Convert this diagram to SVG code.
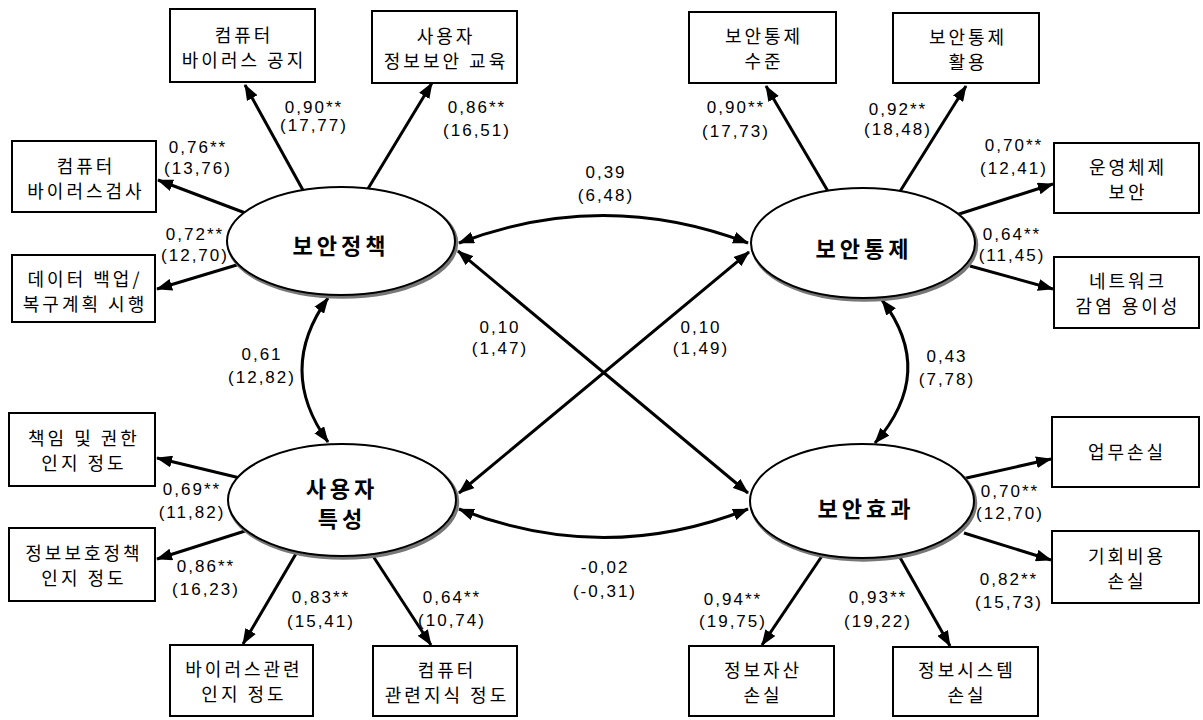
<svg xmlns="http://www.w3.org/2000/svg" width="1203" height="720" viewBox="0 0 1203 720">
<defs>
<style>
.box{fill:#fff;stroke:#000;stroke-width:2}
.ell{fill:#fff;stroke:#000;stroke-width:2}
.sh{fill:none;stroke:#777;stroke-width:3.5}
.bt{font-family:"Noto Sans CJK KR","Noto Sans",sans-serif;font-size:18px;letter-spacing:3px;text-anchor:middle;fill:#000}
.et{font-family:"Noto Sans CJK KR","Noto Sans",sans-serif;font-size:22px;font-weight:bold;letter-spacing:4px;text-anchor:middle;fill:#000}
.nt{font-family:"Liberation Sans",Arial,sans-serif;font-size:17px;letter-spacing:2px;text-anchor:middle;fill:#000}
.ln{fill:none;stroke:#000;stroke-width:3;marker-end:url(#ah)}
.cr{fill:none;stroke:#000;stroke-width:3;marker-start:url(#ah);marker-end:url(#ah)}
</style>
<marker id="ah" viewBox="0 0 16 12" refX="15" refY="6" markerWidth="16" markerHeight="12" markerUnits="userSpaceOnUse" orient="auto-start-reverse"><path d="M0,0 L16,6 L0,12 z" fill="#000"/></marker>
</defs>
<rect width="1203" height="720" fill="#fff"/>
<g id="connectors">
<path class="ln" d="M304,192 L245,85"/>
<path class="ln" d="M366,192 L432,83"/>
<path class="ln" d="M248,214 L158,180"/>
<path class="ln" d="M240,264 L157,289"/>
<path class="ln" d="M829,193 L766,86"/>
<path class="ln" d="M899,193 L966,86"/>
<path class="ln" d="M956,215 L1053,184"/>
<path class="ln" d="M970,266 L1053,289"/>
<path class="ln" d="M240,478 L157,458"/>
<path class="ln" d="M245,531 L157,559"/>
<path class="ln" d="M297,552 L243,644"/>
<path class="ln" d="M371,553 L431,645"/>
<path class="ln" d="M962,479 L1051,459"/>
<path class="ln" d="M964,533 L1051,560"/>
<path class="ln" d="M824,553 L762,645"/>
<path class="ln" d="M898,554 L950,646"/>
<path class="cr" d="M459,243 Q603,188 748,243"/>
<path class="cr" d="M328,298 Q276,370 328,442"/>
<path class="cr" d="M882,300 Q937,372 875,443"/>
<path class="cr" d="M458,251 L748,493"/>
<path class="cr" d="M749,252 L459,493"/>
<path class="cr" d="M459,509 Q604,566 748,509"/>
</g>
<g id="n_policy"><ellipse class="sh" cx="342.5" cy="243" rx="114" ry="54"/><ellipse class="ell" cx="341" cy="241" rx="114" ry="54"/><text class="et" x="341" y="254">보안정책</text></g>
<g id="n_control"><ellipse class="sh" cx="864.5" cy="245" rx="112" ry="55"/><ellipse class="ell" cx="863" cy="243" rx="112" ry="55"/><text class="et" x="864" y="257">보안통제</text></g>
<g id="n_user"><ellipse class="sh" cx="343.5" cy="502" rx="114" ry="56"/><ellipse class="ell" cx="342" cy="500" rx="114" ry="56"/><text class="et" x="342" y="497">사용자</text><text class="et" x="342" y="527">특성</text></g>
<g id="n_effect"><ellipse class="sh" cx="863.5" cy="503" rx="112" ry="57"/><ellipse class="ell" cx="862" cy="501" rx="112" ry="57"/><text class="et" x="866" y="517">보안효과</text></g>
<g id="b1"><rect class="box" x="170" y="9" width="145" height="73"/><text class="bt" x="244" y="42">컴퓨터</text><text class="bt" x="244" y="67">바이러스 공지</text></g>
<g id="b2"><rect class="box" x="372" y="11" width="145" height="72"/><text class="bt" x="446" y="43">사용자</text><text class="bt" x="446" y="68">정보보안 교육</text></g>
<g id="b3"><rect class="box" x="12" y="141" width="144" height="71"/><text class="bt" x="86" y="173">컴퓨터</text><text class="bt" x="86" y="198">바이러스검사</text></g>
<g id="b4"><rect class="box" x="12" y="255" width="143" height="67"/><text class="bt" x="85" y="286">데이터 백업/</text><text class="bt" x="85" y="311">복구계획 시행</text></g>
<g id="b5"><rect class="box" x="689" y="12" width="147" height="71"/><text class="bt" x="764" y="43">보안통제</text><text class="bt" x="764" y="68">수준</text></g>
<g id="b6"><rect class="box" x="893" y="13" width="146" height="70"/><text class="bt" x="968" y="44">보안통제</text><text class="bt" x="968" y="69">활용</text></g>
<g id="b7"><rect class="box" x="1054" y="143" width="145" height="70"/><text class="bt" x="1128" y="174">운영체제</text><text class="bt" x="1128" y="199">보안</text></g>
<g id="b8"><rect class="box" x="1054" y="257" width="145" height="71"/><text class="bt" x="1128" y="288">네트워크</text><text class="bt" x="1128" y="313">감염 용이성</text></g>
<g id="b9"><rect class="box" x="9" y="413" width="146" height="73"/><text class="bt" x="84" y="445">책임 및 권한</text><text class="bt" x="84" y="470">인지 정도</text></g>
<g id="b10"><rect class="box" x="9" y="528" width="146" height="73"/><text class="bt" x="84" y="560">정보보호정책</text><text class="bt" x="84" y="585">인지 정도</text></g>
<g id="b11"><rect class="box" x="170" y="645" width="143" height="71"/><text class="bt" x="244" y="676">바이러스관련</text><text class="bt" x="244" y="701">인지 정도</text></g>
<g id="b12"><rect class="box" x="373" y="646" width="144" height="70"/><text class="bt" x="447" y="677">컴퓨터</text><text class="bt" x="447" y="702">관련지식 정도</text></g>
<g id="b13"><rect class="box" x="689" y="646" width="145" height="70"/><text class="bt" x="763" y="677">정보자산</text><text class="bt" x="763" y="702">손실</text></g>
<g id="b14"><rect class="box" x="893" y="647" width="145" height="69"/><text class="bt" x="967" y="677">정보시스템</text><text class="bt" x="967" y="702">손실</text></g>
<g id="b15"><rect class="box" x="1052" y="417" width="147" height="70"/><text class="bt" x="1127" y="459">업무손실</text></g>
<g id="b16"><rect class="box" x="1052" y="531" width="147" height="72"/><text class="bt" x="1127" y="563">기회비용</text><text class="bt" x="1127" y="588">손실</text></g>
<g id="labels">
<text class="nt" x="314" y="113">0,90**</text><text class="nt" x="314" y="131">(17,77)</text>
<text class="nt" x="198" y="153">0,76**</text><text class="nt" x="198" y="174">(13,76)</text>
<text class="nt" x="195" y="240">0,72**</text><text class="nt" x="195" y="261">(12,70)</text>
<text class="nt" x="477" y="113">0,86**</text><text class="nt" x="477" y="136">(16,51)</text>
<text class="nt" x="606" y="178">0,39</text><text class="nt" x="606" y="201">(6,48)</text>
<text class="nt" x="736" y="113">0,90**</text><text class="nt" x="736" y="137">(17,73)</text>
<text class="nt" x="898" y="115">0,92**</text><text class="nt" x="898" y="135">(18,48)</text>
<text class="nt" x="1014" y="151">0,70**</text><text class="nt" x="1014" y="174">(12,41)</text>
<text class="nt" x="1012" y="240">0,64**</text><text class="nt" x="1012" y="261">(11,45)</text>
<text class="nt" x="262" y="360">0,61</text><text class="nt" x="262" y="383">(12,82)</text>
<text class="nt" x="500" y="333">0,10</text><text class="nt" x="500" y="354">(1,47)</text>
<text class="nt" x="701" y="333">0,10</text><text class="nt" x="701" y="354">(1,49)</text>
<text class="nt" x="947" y="362">0,43</text><text class="nt" x="947" y="385">(7,78)</text>
<text class="nt" x="192" y="495">0,69**</text><text class="nt" x="192" y="518">(11,82)</text>
<text class="nt" x="206" y="572">0,86**</text><text class="nt" x="206" y="595">(16,23)</text>
<text class="nt" x="321" y="603">0,83**</text><text class="nt" x="321" y="627">(15,41)</text>
<text class="nt" x="452" y="603">0,64**</text><text class="nt" x="452" y="626">(10,74)</text>
<text class="nt" x="605" y="573">-0,02</text><text class="nt" x="605" y="597">(-0,31)</text>
<text class="nt" x="733" y="605">0,94**</text><text class="nt" x="733" y="627">(19,75)</text>
<text class="nt" x="878" y="603">0,93**</text><text class="nt" x="878" y="627">(19,22)</text>
<text class="nt" x="1010" y="497">0,70**</text><text class="nt" x="1010" y="519">(12,70)</text>
<text class="nt" x="1009" y="585">0,82**</text><text class="nt" x="1009" y="608">(15,73)</text>
</g>
</svg>
